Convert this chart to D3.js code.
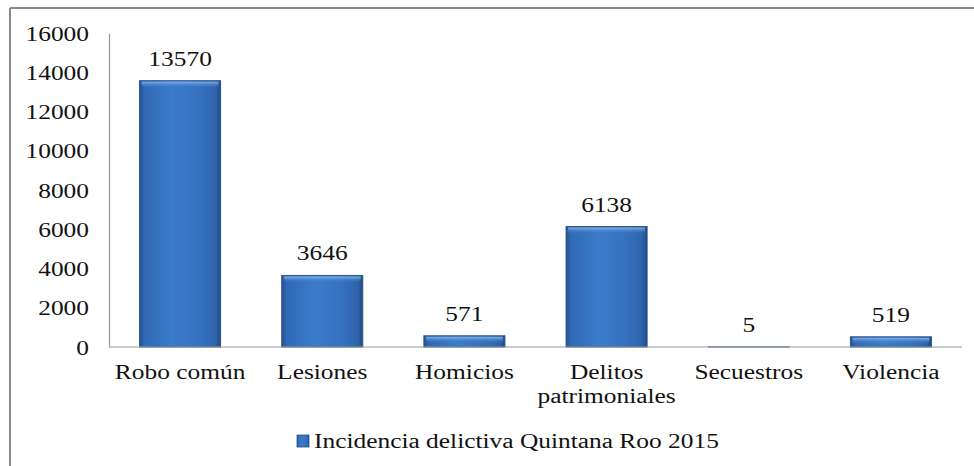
<!DOCTYPE html>
<html>
<head>
<meta charset="utf-8">
<script src="https://cdn.jsdelivr.net/npm/d3@7/dist/d3.min.js"></script>
<style>
  html, body { margin: 0; padding: 0; background: #fff; }
  svg { display: block; }
</style>
</head>
<body>
<svg id="chart" width="974" height="466"></svg>
<script>
// Reported crimes by type, Quintana Roo 2015
const categories = ["Robo común", "Lesiones", "Homicios", "Delitos\npatrimoniales", "Secuestros", "Violencia"];
const values = [13570, 3646, 571, 6138, 5, 519];
const yTicks = [0, 2000, 4000, 6000, 8000, 10000, 12000, 14000, 16000];
const seriesName = "Incidencia delictiva Quintana Roo 2015";

const W = 974, H = 466;
const plot = { left: 109, right: 962, top: 33, bottom: 347 };
const sx = 1.27;      // wide serif lettering
const fontSize = 20;
const serif = "'Liberation Serif', 'DejaVu Serif', serif";

const svg = d3.select("#chart");

// gradient for the bevelled bars
const defs = svg.append("defs");
const g1 = defs.append("linearGradient").attr("id", "barGrad").attr("x1", 0).attr("x2", 1).attr("y1", 0).attr("y2", 0);
[[0, "#24508f"], [0.06, "#3169b4"], [0.4, "#3a7cca"], [0.75, "#3571bf"], [0.94, "#2e63aa"], [1, "#22497f"]]
  .forEach(([o, c]) => g1.append("stop").attr("offset", o).attr("stop-color", c));
const g2 = defs.append("linearGradient").attr("id", "barTop").attr("x1", 0).attr("x2", 0).attr("y1", 0).attr("y2", 1);
[[0, "#8fb8ea", 0.9], [1, "#3a7cca", 0]]
  .forEach(([o, c, a]) => g2.append("stop").attr("offset", o).attr("stop-color", c).attr("stop-opacity", a));

// frame around the chart area
svg.append("line").attr("x1", 10).attr("x2", W).attr("y1", 8).attr("y2", 8)
  .attr("stroke", "#8a8a8a").attr("stroke-width", 2);
svg.append("line").attr("x1", 10).attr("x2", 10).attr("y1", 8).attr("y2", H)
  .attr("stroke", "#8a8a8a").attr("stroke-width", 2);

const x = d3.scaleBand().domain(categories).range([plot.left, plot.right])
  .paddingInner(0.43).paddingOuter(0.215);
const y = d3.scaleLinear().domain([0, 16000]).range([plot.bottom, plot.top]);

function serifText(sel) {
  return sel.attr("font-family", null)
    .style("font-family", serif)
    .style("font-size", fontSize + "px")
    .style("fill", "#111");
}

// y axis
const yAxis = svg.append("g").attr("transform", `translate(${plot.left},0)`)
  .call(d3.axisLeft(y).tickValues(yTicks).tickSize(0).tickPadding(0).tickFormat(d3.format("d")));
yAxis.attr("font-family", null);
yAxis.select(".domain").attr("stroke", "#999").attr("stroke-width", 1.2);
serifText(yAxis.selectAll(".tick text")
  .attr("x", -20 / sx).attr("dy", "0.35em")
  .attr("transform", `scale(${sx},1)`));

// bars
const bars = svg.append("g");
bars.selectAll("rect.bar").data(values).join("rect")
  .attr("class", "bar")
  .attr("x", (d, i) => x(categories[i]))
  .attr("y", d => y(d))
  .attr("width", x.bandwidth())
  .attr("height", d => y(0) - y(d))
  .attr("fill", "url(#barGrad)")
  .attr("stroke", "#2a5590").attr("stroke-width", 1);
bars.selectAll("rect.hl").data(values).join("rect")
  .attr("class", "hl")
  .attr("x", (d, i) => x(categories[i]) + 2)
  .attr("y", d => y(d) + 1)
  .attr("width", x.bandwidth() - 4)
  .attr("height", d => Math.min(6, Math.max(0, y(0) - y(d) - 2)))
  .attr("fill", "url(#barTop)");

// x axis baseline
svg.append("line").attr("x1", plot.left).attr("x2", plot.right)
  .attr("y1", plot.bottom).attr("y2", plot.bottom)
  .attr("stroke", "#999").attr("stroke-width", 1.2);

// value labels
serifText(svg.append("g").selectAll("text").data(values).join("text")
  .attr("text-anchor", "middle")
  .attr("transform", (d, i) => `translate(${x(categories[i]) + x.bandwidth() / 2},${y(d) - 15}) scale(${sx},1)`)
  .text(d => d));

// category labels
const cat = serifText(svg.append("g").selectAll("text").data(categories).join("text")
  .attr("text-anchor", "middle")
  .attr("transform", d => `translate(${x(d) + x.bandwidth() / 2},${plot.bottom + 32}) scale(${sx},1)`));
cat.selectAll("tspan").data(d => d.split("\n")).join("tspan")
  .attr("x", 0).attr("dy", (d, i) => i === 0 ? 0 : 24)
  .text(d => d);

// legend
const legend = svg.append("g").attr("transform", "translate(297,435)");
legend.append("rect").attr("width", 12).attr("height", 12)
  .attr("fill", "url(#barGrad)").attr("stroke", "#2a5590").attr("stroke-width", 0.8);
serifText(legend.append("text")
  .attr("transform", `translate(17,13) scale(${sx},1)`)
  .text(seriesName));
</script>
</body>
</html>
